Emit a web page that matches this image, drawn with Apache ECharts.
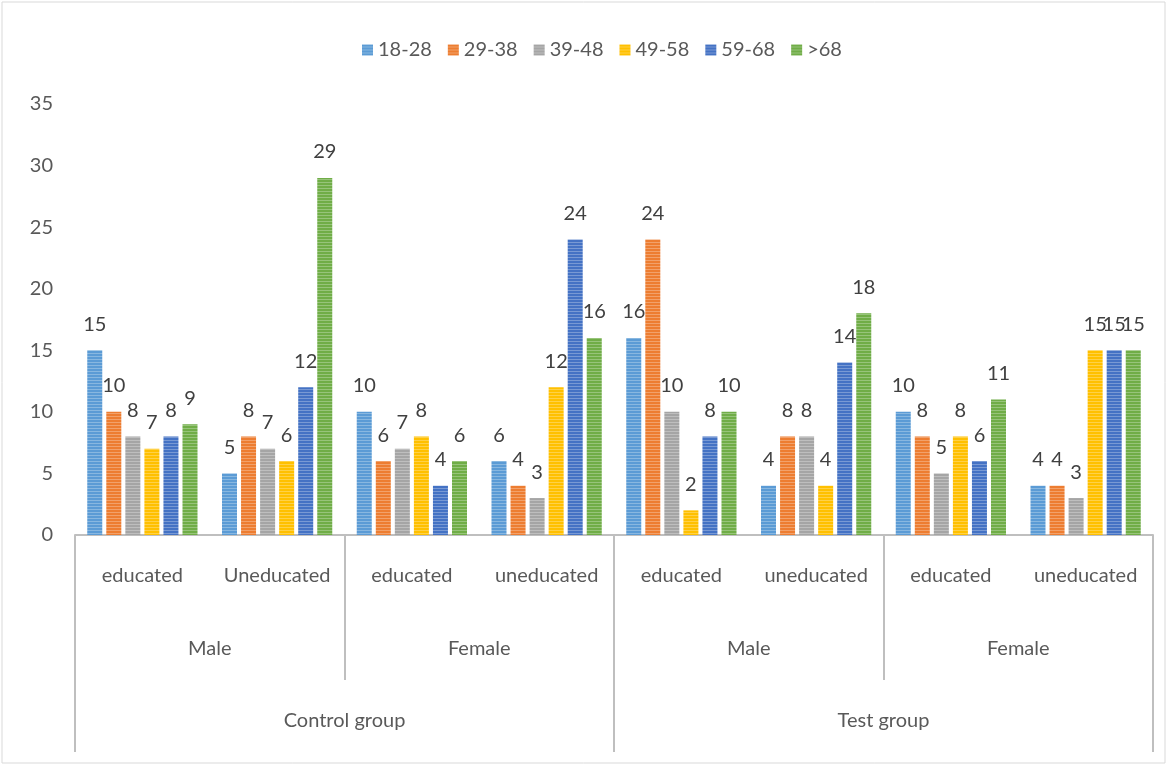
<!DOCTYPE html>
<html>
<head>
<meta charset="utf-8">
<script src="https://cdn.jsdelivr.net/npm/echarts@6/dist/echarts.min.js"></script>
<style>
  html, body { margin: 0; padding: 0; background: #fff; }
  #main { width: 1168px; height: 766px; }
</style>
</head>
<body>
<div id="main"></div>
<script>
var ageGroups = ["18-28", "29-38", "39-48", "49-58", "59-68", ">68"];
var educationLabels = ["educated", "Uneducated", "educated", "uneducated", "educated", "uneducated", "educated", "uneducated"];
var genderLabels = ["Male", "Female", "Male", "Female"];
var groupLabels = ["Control group", "Test group"];

var age18to28 = [15, 5, 10, 6, 16, 4, 10, 4];
var age29to38 = [10, 8, 6, 4, 24, 8, 8, 4];
var age39to48 = [8, 7, 7, 3, 10, 8, 5, 3];
var age49to58 = [7, 6, 8, 12, 2, 4, 8, 15];
var age59to68 = [8, 12, 4, 24, 8, 14, 6, 15];
var ageOver68 = [9, 29, 6, 16, 10, 18, 11, 15];

var yTicks = [0, 5, 10, 15, 20, 25, 30, 35];

void (function() {
  var chart = echarts.init(document.getElementById("main"));

  var colors = ["#5B9BD5", "#ED7D31", "#A5A5A5", "#FFC000", "#4472C4", "#70AD47"];
  var allValues = [age18to28, age29to38, age39to48, age49to58, age59to68, ageOver68];

  // excel style striped fill
  var stripe = function(color) {
    var c = document.createElement("canvas");
    c.width = 4;
    c.height = 3;
    var ctx = c.getContext("2d");
    ctx.fillStyle = color;
    ctx.fillRect(0, 0, 4, 3);
    ctx.fillStyle = "rgba(255,255,255,0.28)";
    ctx.fillRect(0, 2, 4, 1);
    return { image: c, repeat: "repeat" };
  };

  var textColor = "#595959";
  var lineColor = "#BFBFBF";
  var font = "Lato, 'Open Sans', sans-serif";

  var series = [];
  for (var i = 0; i < ageGroups.length; i++) {
    series.push({
      name: ageGroups[i],
      type: "bar",
      xAxisIndex: 0,
      data: allValues[i],
      barWidth: 15,
      barGap: "27%",
      itemStyle: { color: stripe(colors[i]) },
      label: {
        show: true,
        position: "top",
        distance: 16,
        color: "#404040",
        fontSize: 20,
        fontFamily: font
      }
    });
  }

  var option = {
    backgroundColor: "#fff",
    textStyle: { fontFamily: font },
    legend: {
      data: ageGroups,
      top: 35,
      left: 357,
      itemWidth: 11,
      itemHeight: 11,
      itemGap: 16,
      icon: "rect",
      textStyle: { color: textColor, fontSize: 20, fontFamily: font }
    },
    grid: { left: 75, right: 15, top: 104, bottom: 231 },
    yAxis: {
      type: "value",
      min: yTicks[0],
      max: yTicks[yTicks.length - 1],
      interval: 5,
      axisLine: { show: false },
      axisTick: { show: false },
      splitLine: { show: false },
      axisLabel: { color: textColor, fontSize: 20, margin: 22, fontFamily: font }
    },
    xAxis: [
      {
        type: "category",
        data: educationLabels,
        position: "bottom",
        axisLine: { show: true, lineStyle: { color: lineColor, width: 2 } },
        axisTick: { show: false },
        axisLabel: { color: textColor, fontSize: 20, margin: 31, interval: 0, fontFamily: font }
      },
      {
        type: "category",
        data: genderLabels,
        position: "bottom",
        axisLine: { show: false },
        axisTick: { show: true, length: 145, lineStyle: { color: lineColor, width: 2 } },
        axisLabel: { color: textColor, fontSize: 20, margin: 104, interval: 0, fontFamily: font }
      },
      {
        type: "category",
        data: groupLabels,
        position: "bottom",
        axisLine: { show: false },
        axisTick: { show: true, length: 217, lineStyle: { color: lineColor, width: 2 } },
        axisLabel: { color: textColor, fontSize: 20, margin: 176, interval: 0, fontFamily: font }
      }
    ],
    graphic: [
      {
        type: "rect",
        shape: { x: 2, y: 2, width: 1163, height: 761 },
        style: { fill: null, stroke: "#D9D9D9", lineWidth: 1 }
      }
    ],
    series: series
  };

  chart.setOption(option);
})();
</script>
</body>
</html>
